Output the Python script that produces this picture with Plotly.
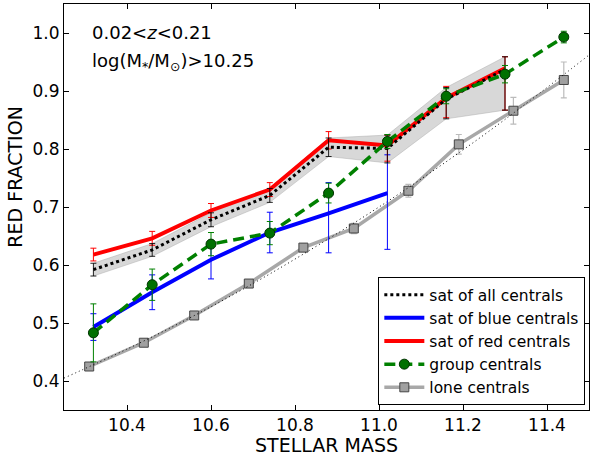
import plotly.graph_objects as go

# ---- data ----
x_sat = [10.32, 10.46, 10.60, 10.74, 10.88, 11.02, 11.16, 11.30]
all_y = [0.592, 0.626, 0.678, 0.720, 0.803, 0.801, 0.886, 0.937]
all_up = [0.011, 0.011, 0.012, 0.012, 0.016, 0.023, 0.020, 0.022]
all_dn = [0.011, 0.011, 0.012, 0.012, 0.016, 0.025, 0.034, 0.070]

red_y = [0.618, 0.646, 0.694, 0.730, 0.815, 0.806, 0.888, 0.939]
red_up = [0.011, 0.012, 0.012, 0.012, 0.015, 0.018, 0.020, 0.020]
red_dn = [0.011, 0.012, 0.012, 0.012, 0.015, 0.027, 0.034, 0.072]

x_blue = [10.32, 10.46, 10.60, 10.74, 10.88, 11.02]
blue_y = [0.493, 0.553, 0.609, 0.656, 0.689, 0.724]
blue_up = [0.023, 0.030, 0.033, 0.035, 0.053, 0.066]
blue_dn = [0.023, 0.030, 0.033, 0.035, 0.068, 0.097]

x_group = [10.32, 10.46, 10.60, 10.74, 10.88, 11.02, 11.16, 11.30, 11.44]
group_y = [0.483, 0.566, 0.636, 0.655, 0.724, 0.813, 0.891, 0.929, 0.993]
group_err = [0.050, 0.027, 0.020, 0.020, 0.017, 0.012, 0.013, 0.015, 0.010]

x_lone = [10.31, 10.44, 10.56, 10.69, 10.82, 10.94, 11.07, 11.19, 11.32, 11.44]
lone_y = [0.425, 0.466, 0.513, 0.568, 0.630, 0.663, 0.728, 0.808, 0.866, 0.919]
lone_err = [0.004, 0.004, 0.005, 0.006, 0.007, 0.009, 0.011, 0.017, 0.023, 0.031]

x_fit = [10.25, 10.40, 10.55, 10.70, 10.85, 11.00, 11.15, 11.30, 11.50]
fit_y = [0.405, 0.455, 0.509, 0.568, 0.632, 0.700, 0.773, 0.851, 0.962]

x_ticks = [10.4, 10.6, 10.8, 11.0, 11.2, 11.4]
x_ticklabels = ["10.4", "10.6", "10.8", "11.0", "11.2", "11.4"]
y_ticks = [0.4, 0.5, 0.6, 0.7, 0.8, 0.9, 1.0]
y_ticklabels = ["0.4", "0.5", "0.6", "0.7", "0.8", "0.9", "1.0"]

band_hi = [y + u for y, u in zip(all_y, all_up)]
band_lo = [y - d for y, d in zip(all_y, all_dn)]

FONT = "DejaVu Sans"
fig = go.Figure()

# shaded band around "all"
fig.add_trace(go.Scatter(x=x_sat, y=band_lo, mode="lines",
                         line=dict(color="rgba(170,170,170,0.6)", width=0.8),
                         showlegend=False, hoverinfo="skip"))
fig.add_trace(go.Scatter(x=x_sat, y=band_hi, mode="lines", fill="tonexty",
                         fillcolor="rgba(200,200,200,0.7)",
                         line=dict(color="rgba(170,170,170,0.6)", width=0.8),
                         showlegend=False, hoverinfo="skip"))

# lone centrals
fig.add_trace(go.Scatter(
    x=x_lone, y=lone_y, mode="lines+markers", name="lone centrals",
    line=dict(color="#a8a8a8", width=3.5),
    marker=dict(symbol="square", size=9, color="#a0a0a0",
                line=dict(color="#444444", width=1)),
    error_y=dict(type="data", array=lone_err, color="#bbbbbb",
                 thickness=1.2, width=3),
    legendgroup="e", legendrank=5))

# dotted fit line
fig.add_trace(go.Scatter(x=x_fit, y=fit_y, mode="lines", line_shape="spline",
                         line=dict(color="#000000", width=1, dash="1px,3px"),
                         showlegend=False, hoverinfo="skip"))

# blue
fig.add_trace(go.Scatter(
    x=x_blue, y=blue_y, mode="lines", name="sat of blue centrals",
    line=dict(color="#0000ff", width=4),
    error_y=dict(type="data", symmetric=False, array=blue_up,
                 arrayminus=blue_dn, color="#0000ff", thickness=1, width=3),
    legendgroup="b", legendrank=2))

# red
fig.add_trace(go.Scatter(
    x=x_sat, y=red_y, mode="lines", name="sat of red centrals",
    line=dict(color="#ff0000", width=4),
    error_y=dict(type="data", symmetric=False, array=red_up,
                 arrayminus=red_dn, color="#ff0000", thickness=1, width=3),
    legendgroup="c", legendrank=3))

# all (black dotted)
fig.add_trace(go.Scatter(
    x=x_sat, y=all_y, mode="lines", name="sat of all centrals",
    line=dict(color="#000000", width=3, dash="dot"),
    error_y=dict(type="data", symmetric=False, array=all_up,
                 arrayminus=all_dn, color="rgba(0,0,0,0.85)", thickness=1, width=3),
    legendgroup="a", legendrank=1))

# group centrals
fig.add_trace(go.Scatter(
    x=x_group, y=group_y, mode="lines+markers", name="group centrals",
    line=dict(color="#008000", width=3.5, dash="11px,6px"),
    marker=dict(symbol="circle", size=10, color="#007000",
                line=dict(color="#003300", width=1)),
    error_y=dict(type="data", array=group_err, color="#008000",
                 thickness=1, width=3),
    legendgroup="d", legendrank=4))

# text annotations
fig.add_annotation(xref="paper", yref="paper", x=0.049, y=0.929,
                   xanchor="left", yanchor="middle", showarrow=False,
                   text="0.02&lt;<i>z</i>&lt;0.21",
                   font=dict(family=FONT, size=18, color="black"))
fig.add_annotation(xref="paper", yref="paper", x=0.049, y=0.857,
                   xanchor="left", yanchor="middle", showarrow=False,
                   text="log(M<sub>*</sub>/M<sub>⊙</sub>)&gt;10.25",
                   font=dict(family=FONT, size=18, color="black"))

# axis titles as annotations (exact placement)
fig.add_annotation(xref="paper", yref="paper", x=0.5, y=-0.086,
                   xanchor="center", yanchor="middle", showarrow=False,
                   text="STELLAR MASS",
                   font=dict(family=FONT, size=19, color="black"))
fig.add_annotation(xref="paper", yref="paper", x=-0.095, y=0.575,
                   xanchor="center", yanchor="middle", showarrow=False,
                   text="RED FRACTION", textangle=-90,
                   font=dict(family=FONT, size=19, color="black"))

axis_common = dict(showline=True, linecolor="black", linewidth=1, mirror="ticks",
                   ticks="inside", ticklen=5, tickcolor="black", showgrid=False,
                   zeroline=False, automargin=False,
                   tickfont=dict(family=FONT, size=17, color="black"))

fig.update_xaxes(range=[10.25, 11.5], tickvals=x_ticks, ticktext=x_ticklabels,
                 **axis_common)
fig.update_yaxes(range=[0.35, 1.05], tickvals=y_ticks, ticktext=y_ticklabels,
                 **axis_common)

fig.update_layout(
    width=591, height=457,
    margin=dict(l=64, r=2, t=4, b=47),
    plot_bgcolor="white", paper_bgcolor="white",
    font=dict(family=FONT, size=14, color="black"),
    legend=dict(x=0.993, y=0.012, xanchor="right", yanchor="bottom",
                bgcolor="white", bordercolor="black", borderwidth=1,
                font=dict(family=FONT, size=15.5, color="black"),
                traceorder="grouped", tracegroupgap=0, itemwidth=40),
)

fig.write_html("out.html", config={"displayModeBar": False},
               post_script="document.body.style.margin='0';document.body.style.padding='0';")
